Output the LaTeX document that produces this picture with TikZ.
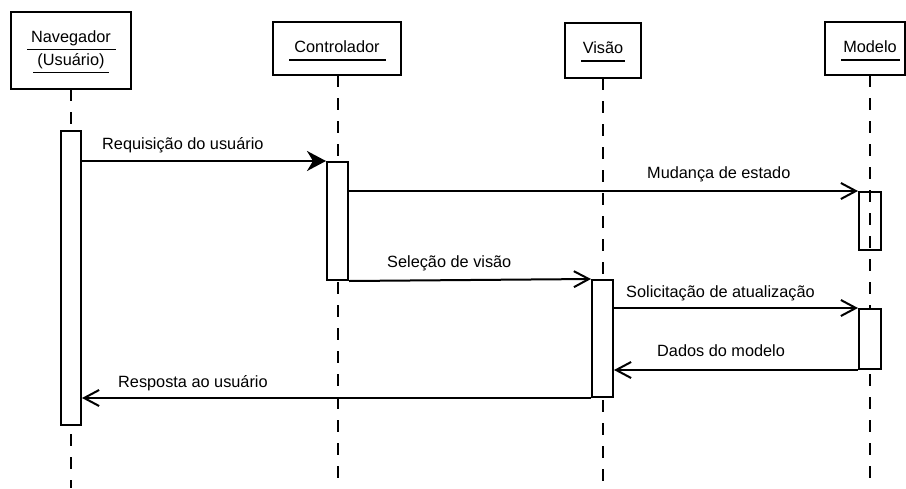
\documentclass[tikz,border=0pt]{standalone}
\usepackage{fontspec}
\setmainfont{Liberation Sans}
\usetikzlibrary{arrows.meta}
\begin{document}
\begin{tikzpicture}[x=1pt,y=-1pt,
  every node/.style={font=\fontsize{16.3}{19}\selectfont},
  objbox/.style={draw,line width=2pt,rectangle,inner sep=0pt,fill=white},
  act/.style={draw,line width=2pt,fill=white,inner sep=0pt},
  actopen/.style={draw,line width=2pt,inner sep=0pt},
  life/.style={line width=1.2pt,dash pattern=on 11.5pt off 11.5pt},
  call/.style={line width=2pt,-{Straight Barb[length=15pt,width=16pt]}},
  firstcall/.style={line width=2pt,-{Stealth[length=19pt,width=20pt,inset=6pt]}},
  lbl/.style={anchor=base west,inner sep=0pt},
  ttl/.style={anchor=base,inner sep=0pt},
  uline/.style={line width=1.3pt}]
\useasboundingbox (0,0) rectangle (906,488);

% lifeline coordinates
\coordinate (topN) at (71,89);   \coordinate (endN) at (71,488);
\coordinate (topC) at (338,75);  \coordinate (endC) at (338,488);
\coordinate (topV) at (603,78);  \coordinate (endV) at (603,488);
\coordinate (topM) at (870,75);  \coordinate (endM) at (870,488);

\draw[life] (topN) -- (endN);
\draw[life] (topC) -- (endC);
\draw[life] (topV) -- (endV);
\draw[life] (topM) -- (endM);

% object boxes
\node[objbox,minimum width=120pt,minimum height=77pt] (boxN) at (71,50.5) {};
\node[objbox,minimum width=128pt,minimum height=53pt] (boxC) at (337,48.5) {};
\node[objbox,minimum width=76pt,minimum height=55pt] (boxV) at (603,50.5) {};
\node[objbox,minimum width=80pt,minimum height=53pt] (boxM) at (865,48.5) {};

% titles
\node[ttl] (tN1) at (71,42.7) {Navegador};
\draw[uline] (27,49.3) -- (116,49.3);
\node[ttl] (tN2) at (71,65) {(Usuário)};
\draw[uline] (33,72.7) -- (109,72.7);
\node[ttl] (tC) at (337,52.5) {Controlador};
\draw[uline] (289,60) -- (386,60);
\node[ttl] (tV) at (603,53) {Visão};
\draw[uline] (581,61) -- (625,61);
\node[ttl] (tM) at (870,52) {Modelo};
\draw[uline] (841,60) -- (900,60);

% activations
\node[act,minimum width=20pt,minimum height=294pt] (actN) at (71,278) {};
\node[act,minimum width=21pt,minimum height=118pt] (actC) at (337.5,221) {};
\node[act,minimum width=21pt,minimum height=117pt] (actV) at (602.5,338.5) {};
\node[actopen,minimum width=22pt,minimum height=58pt] (actM1) at (870,221) {};
\node[act,minimum width=22pt,minimum height=60pt] (actM2) at (870,339) {};

% messages
\draw[firstcall] (actN.east |- actC.north west) -- (actC.north west);
\draw[call] (actC.east |- actM1.north west) -- (actM1.north west);
\draw[call] (actC.south east) -- (actV.north west);
\draw[call] (actV.east |- actM2.north west) -- (actM2.north west);
\draw[call] (actM2.south west) -- (actV.east |- actM2.south west);
\draw[call] (actV.south west) -- (actN.east |- actV.south west);

% labels
\node[lbl] (l1) at (102,149) {Requisição do usuário};
\node[lbl] (l2) at (647,178) {Mudança de estado};
\node[lbl] (l3) at (387,267.3) {Seleção de visão};
\node[lbl] (l4) at (626,297.3) {Solicitação de atualização};
\node[lbl] (l5) at (657,356) {Dados do modelo};
\node[lbl] (l6) at (118,387) {Resposta ao usuário};
\end{tikzpicture}
\end{document}
